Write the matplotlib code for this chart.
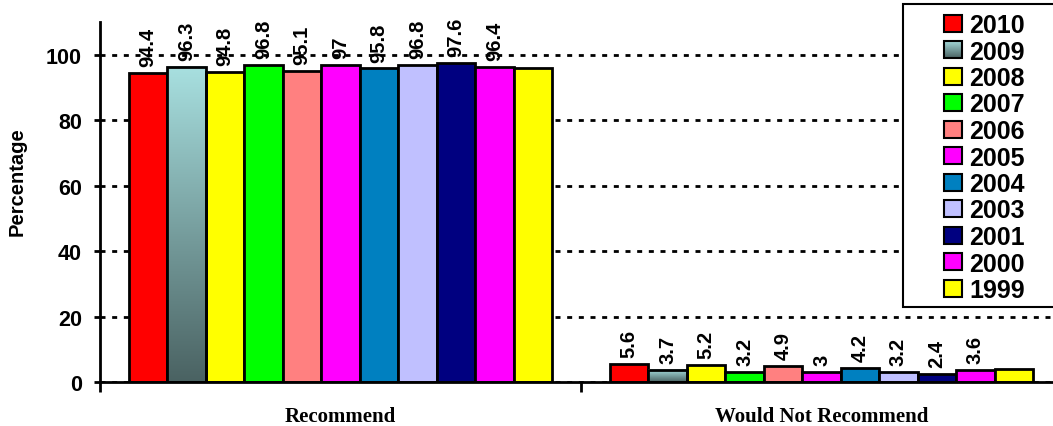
import numpy as np
import matplotlib.pyplot as plt
from matplotlib.patches import Rectangle
from matplotlib.legend_handler import HandlerBase
from matplotlib.image import BboxImage
from matplotlib.transforms import Bbox, TransformedBbox
from matplotlib.colors import LinearSegmentedColormap

years = ["2010", "2009", "2008", "2007", "2006", "2005", "2004", "2003", "2001", "2000", "1999"]
recommend = [94.4, 96.3, 94.8, 96.8, 95.1, 97, 95.8, 96.8, 97.6, 96.4, 96.0]
not_recommend = [5.6, 3.7, 5.2, 3.2, 4.9, 3, 4.2, 3.2, 2.4, 3.6, 4.0]
categories = ["Recommend", "Would Not Recommend"]
labelled_years = years[:10]
colors = ["#FF0000", "gradient", "#FFFF00", "#00FF00", "#FF8080", "#FF00FF",
          "#0080C0", "#C0C0FF", "#000080", "#FF00FF", "#FFFF00"]

plt.rcParams["font.family"] = ["Liberation Sans", "DejaVu Sans"]
plt.rcParams["font.weight"] = "bold"

W, H = 1053, 427
grad_cmap = LinearSegmentedColormap.from_list("teal", ["#4A6262", "#A8E0E0"])
grad = np.linspace(0, 1, 256).reshape(-1, 1)


class GradientHandler(HandlerBase):
    def create_artists(self, legend, orig_handle, xdescent, ydescent,
                       width, height, fontsize, trans):
        x0, y0 = -xdescent, -ydescent
        bb = TransformedBbox(Bbox.from_bounds(x0, y0, width, height), trans)
        img = BboxImage(bb, cmap=grad_cmap, origin="lower", interpolation="bilinear")
        img.set_data(grad)
        frame = Rectangle((x0, y0), width, height, facecolor="none",
                          edgecolor="black", lw=1.5, transform=trans)
        return [img, frame]


fig = plt.figure(figsize=(W / 100, H / 100), dpi=100)
ax = fig.add_axes([100 / W, 44 / H, 962 / W, 360 / H])

n = len(years)
group_w = 0.88
w = group_w / n
base = np.arange(len(categories))

handles = []
handler_map = {}
for i, year in enumerate(years):
    xs = base - group_w / 2 + w * (i + 0.5)
    vals = [recommend[i], not_recommend[i]]
    if colors[i] == "gradient":
        for x, v in zip(xs, vals):
            ax.imshow(grad, cmap=grad_cmap, origin="lower", aspect="auto",
                      extent=(x - w / 2, x + w / 2, 0, v), zorder=2,
                      interpolation="bilinear")
        ax.bar(xs, vals, w, facecolor="none", edgecolor="black", lw=2, zorder=3)
        h = Rectangle((0, 0), 1, 1, facecolor="#7FA8A8", edgecolor="black", lw=1.5)
        handler_map[h] = GradientHandler()
    else:
        ax.bar(xs, vals, w, color=colors[i], edgecolor="black", lw=2, zorder=2)
        h = Rectangle((0, 0), 1, 1, facecolor=colors[i], edgecolor="black", lw=1.5)
    handles.append(h)
    if year in labelled_years:
        for x, v in zip(xs, vals):
            ax.annotate(f"{v:g}", (x, v), xytext=(0, 5), textcoords="offset points",
                        rotation=90, ha="center", va="bottom", fontsize=14.5,
                        fontweight="bold")

ax.set_xlim(-0.5, 1.5)
ax.set_ylim(0, 110)
ax.set_yticks(np.arange(0, 101, 20))
ax.yaxis.grid(True, color="black", lw=2, linestyle=(0, (1.8, 2.4)))
ax.set_axisbelow(True)

for side in ["top", "right"]:
    ax.spines[side].set_visible(False)
for side in ["left", "bottom"]:
    ax.spines[side].set_linewidth(2)

ax.tick_params(axis="y", direction="out", length=4, width=2, labelsize=15.5, pad=9)
ax.set_xticks([-0.5, 0.5, 1.5])
ax.set_xticklabels([])
ax.set_xticks(base, minor=True)
ax.set_xticklabels(categories, minor=True, fontfamily="Liberation Serif",
                   fontsize=15, fontweight="bold")
ax.tick_params(axis="x", which="major", direction="out", length=7, width=2)
ax.tick_params(axis="x", which="minor", length=0, pad=17)

fig.text(17 / W, 1 - 182 / H, "Percentage", rotation=90, ha="center", va="center",
         fontsize=14.5, fontweight="bold")

# legend frame runs off the right edge of the figure
fig.patches.append(Rectangle((903 / W, 1 - 308 / H), 0.2, 303 / H,
                             transform=fig.transFigure, facecolor="white",
                             edgecolor="black", lw=1.5, zorder=5))
fig.legend(handles, years, handler_map=handler_map, loc="upper left",
           bbox_to_anchor=(944 / W, 1 - 14 / H), frameon=False, borderpad=0,
           borderaxespad=0, handlelength=0.72, handleheight=0.68,
           handletextpad=0.3, labelspacing=0.1,
           prop={"size": 18, "weight": "bold"})

fig.savefig("out.png", dpi=100)
